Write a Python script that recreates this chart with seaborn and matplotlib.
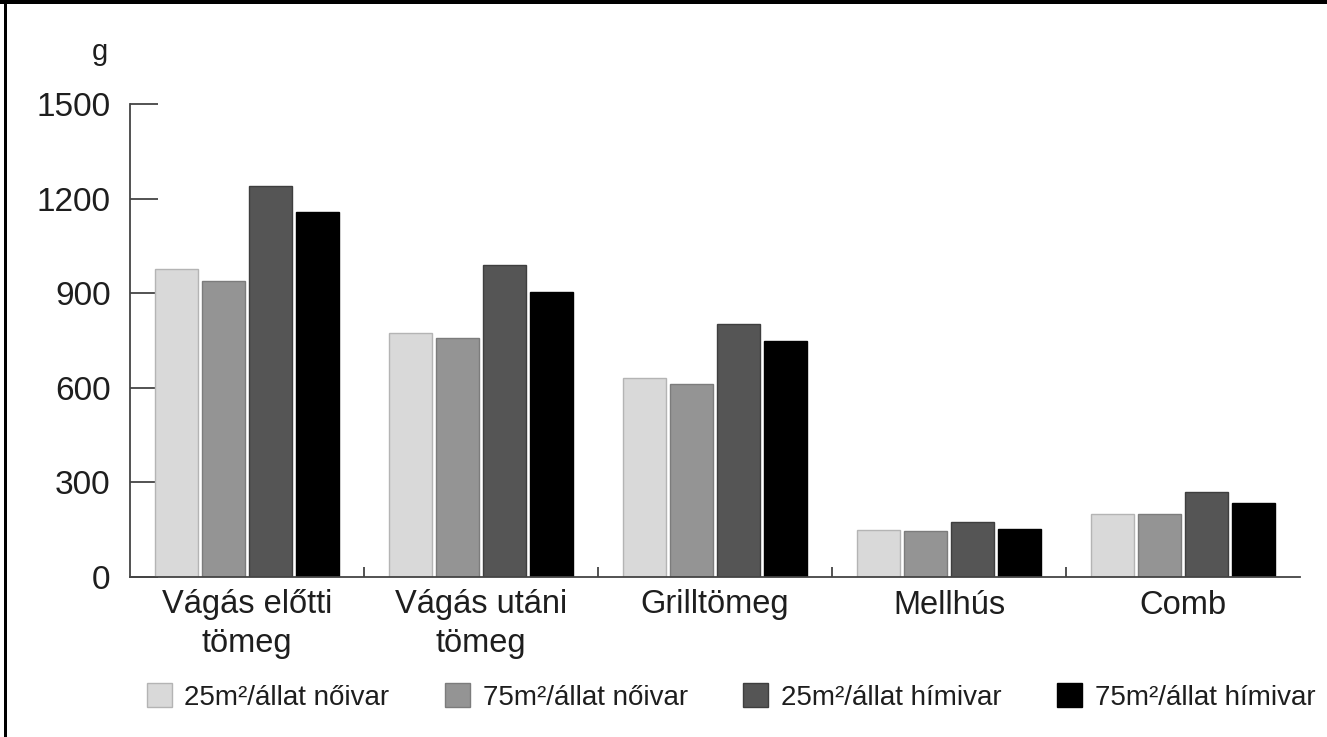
import matplotlib
matplotlib.use("Agg")
import matplotlib.pyplot as plt
from matplotlib.lines import Line2D
import pandas as pd
import seaborn as sns

# Categories on the x axis
categories = ["Vágás előtti\ntömeg", "Vágás utáni\ntömeg", "Grilltömeg", "Mellhús", "Comb"]

# Groups (stocking density / sex)
groups = ["25m²/állat nőivar", "75m²/állat nőivar",
          "25m²/állat hímivar", "75m²/állat hímivar"]

# Mean weights in grams, per group
noivar_25 = [978, 774, 631, 149, 200]
noivar_75 = [939, 758, 612, 146, 200]
himivar_25 = [1240, 990, 802, 174, 270]
himivar_75 = [1158, 904, 748, 152, 235]

y_ticks = [0, 300, 600, 900, 1200, 1500]
unit_label = "g"

fill_colors = ["#d9d9d9", "#949494", "#555555", "#000000"]
edge_colors = ["#b4b4b4", "#7c7c7c", "#3e3e3e", "#000000"]
text_color = "#1e1e1e"
axis_color = "#444444"

sns.set_style("white")
plt.rcParams["font.family"] = ["Liberation Sans", "DejaVu Sans"]
plt.rcParams["text.color"] = text_color
plt.rcParams["xtick.color"] = axis_color
plt.rcParams["ytick.color"] = axis_color
plt.rcParams["xtick.labelcolor"] = text_color
plt.rcParams["ytick.labelcolor"] = text_color

rows = []
for grp, vals in zip(groups, [noivar_25, noivar_75, himivar_25, himivar_75]):
    for cat, v in zip(categories, vals):
        rows.append({"kategoria": cat, "csoport": grp, "tomeg": v})
df = pd.DataFrame(rows)

W, H = 1327, 737
fig = plt.figure(figsize=(W / 100, H / 100), dpi=100)
ax = fig.add_axes([130 / W, 160 / H, 1170 / W, 473 / H])

sns.barplot(data=df, x="kategoria", y="tomeg", hue="csoport",
            order=categories, hue_order=groups, palette=fill_colors,
            width=0.8, gap=0.08, linewidth=1.0, ax=ax)

for cont, ec in zip(ax.containers, edge_colors):
    for p in cont.patches:
        p.set_edgecolor(ec)

handles = [cont.patches[0] for cont in ax.containers]
if ax.get_legend() is not None:
    ax.get_legend().remove()

ax.set_xlim(-0.5, len(categories) - 0.5)
ax.set_ylim(0, 1500)
ax.set_yticks(y_ticks)
ax.set_xlabel("")
ax.set_ylabel("")

sns.despine(ax=ax)
for side in ("left", "bottom"):
    ax.spines[side].set_color(axis_color)
    ax.spines[side].set_linewidth(1.3)

ax.tick_params(axis="y", left=True, direction="in", length=20, width=1.3,
               pad=14, labelsize=24)
ax.tick_params(axis="x", which="major", bottom=True, length=0, pad=9,
               labelsize=23.5)
ax.set_xticks([i + 0.5 for i in range(len(categories) - 1)], minor=True)
ax.tick_params(axis="x", which="minor", bottom=True, direction="in",
               length=7, width=1.3)
for lbl in ax.get_xticklabels():
    lbl.set_linespacing(1.3)

ax.text((100 - 130) / 1170, (577 - 60) / 473, unit_label,
        transform=ax.transAxes, ha="center", va="baseline", fontsize=21)

fig.legend(handles, groups, loc="center left",
           bbox_to_anchor=(147 / W, 40 / H), ncol=4, frameon=False,
           fontsize=20, handlelength=0.9, handleheight=0.9,
           handletextpad=0.45, columnspacing=2.0,
           borderpad=0, borderaxespad=0)

# Frame lines along the top and left edges
fig.add_artist(Line2D([0, 1], [1 - 2 / H] * 2, transform=fig.transFigure,
                      color="black", linewidth=4 * 0.72))
fig.add_artist(Line2D([4.5 / W] * 2, [0, 1], transform=fig.transFigure,
                      color="black", linewidth=3 * 0.72))

fig.savefig("out.png", dpi=100)
